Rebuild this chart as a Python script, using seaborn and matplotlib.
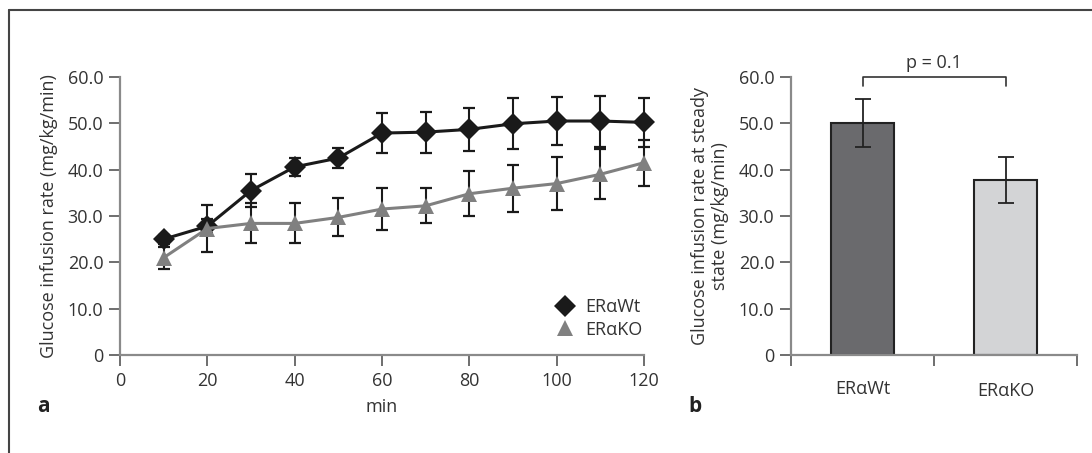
import matplotlib
matplotlib.use("Agg")
import matplotlib.pyplot as plt
from matplotlib.lines import Line2D
import seaborn as sns
import numpy as np
import pandas as pd

# time course (panel a)
minutes = [10, 20, 30, 40, 50, 60, 70, 80, 90, 100, 110, 120]
wt_mean = [25.0, 27.8, 35.5, 40.6, 42.5, 47.9, 48.1, 48.7, 49.9, 50.5, 50.5, 50.2]
wt_err = [1.0, 1.5, 3.6, 2.0, 2.2, 4.4, 4.4, 4.7, 5.5, 5.2, 5.5, 5.3]
ko_mean = [21.0, 27.3, 28.4, 28.4, 29.7, 31.5, 32.2, 34.8, 36.0, 37.0, 39.0, 41.5]
ko_err = [2.4, 5.0, 4.3, 4.3, 4.1, 4.6, 3.8, 4.9, 5.1, 5.7, 5.4, 5.0]

# steady state (panel b)
groups = ["ER\u03b1Wt", "ER\u03b1KO"]
steady_mean = [50.0, 37.8]
steady_err = [5.2, 5.0]
p_text = "p = 0.1"

y_ticks = [0, 10, 20, 30, 40, 50, 60]
y_ticklabels = ["0", "10.0", "20.0", "30.0", "40.0", "50.0", "60.0"]

FS = 13
sns.set_style("ticks")
plt.rcParams["font.family"] = ["Open Sans", "DejaVu Sans"]
plt.rcParams["font.size"] = FS

AXIS_C = "#8a8a8a"
TEXT_C = "#333333"


def style_axis(ax):
    sns.despine(ax=ax)
    for s in ["left", "bottom"]:
        ax.spines[s].set_color(AXIS_C)
        ax.spines[s].set_linewidth(1.6)
    ax.tick_params(colors=TEXT_C, labelsize=FS, length=8, width=1.2, pad=4)
    ax.tick_params(axis="both", color="#555555")
    ax.set_ylim(0, 60)
    ax.set_yticks(y_ticks)
    ax.set_yticklabels(y_ticklabels)


fig = plt.figure(figsize=(10.92, 4.53), dpi=100)

# figure frame (top and left)
fig.add_artist(Line2D([9 / 1092, 1.0], [1 - 10 / 453, 1 - 10 / 453], color="#444444", lw=1.5))
fig.add_artist(Line2D([9 / 1092, 9 / 1092], [0.0, 1 - 10 / 453], color="#444444", lw=1.5))

# ---- panel a ----
ax1 = fig.add_axes([120 / 1092, 1 - 355 / 453, (644 - 120) / 1092, (355 - 77) / 453])
df = pd.DataFrame({
    "min": minutes * 2,
    "rate": wt_mean + ko_mean,
    "group": [groups[0]] * len(minutes) + [groups[1]] * len(minutes),
})
ax1.errorbar(minutes, ko_mean, yerr=ko_err, fmt="none", ecolor="#1a1a1a",
             elinewidth=1.5, capsize=4, capthick=1.6, zorder=2, clip_on=False)
ax1.errorbar(minutes, wt_mean, yerr=wt_err, fmt="none", ecolor="#1a1a1a",
             elinewidth=1.5, capsize=4, capthick=1.6, zorder=2, clip_on=False)
sns.lineplot(data=df, x="min", y="rate", hue="group", style="group",
             palette=["#1a1a1a", "#808080"], markers=["D", "^"], dashes=False,
             markersize=11, markeredgewidth=0, linewidth=2.2, ax=ax1,
             legend=False, zorder=3, clip_on=False)
ax1.set_xlim(0, 120)
ax1.set_xticks(range(0, 121, 20))
style_axis(ax1)
ax1.set_xlabel("min", color=TEXT_C, fontsize=FS, labelpad=6)
ax1.set_ylabel("Glucose infusion rate (mg/kg/min)", color=TEXT_C, fontsize=FS, labelpad=7)

handles = [
    Line2D([], [], color="#1a1a1a", marker="D", linestyle="none", markersize=11, markeredgewidth=0),
    Line2D([], [], color="#808080", marker="^", linestyle="none", markersize=11, markeredgewidth=0),
]
leg = ax1.legend(handles, groups, loc="lower right", bbox_to_anchor=(1.017, 0.02), frameon=False,
                 fontsize=FS, handletextpad=0.1, labelspacing=0.25, borderaxespad=0.2)
for t in leg.get_texts():
    t.set_color(TEXT_C)

# ---- panel b ----
ax2 = fig.add_axes([791 / 1092, 1 - 355 / 453, (1077 - 791) / 1092, (355 - 77) / 453])
df_b = pd.DataFrame({"group": groups, "rate": steady_mean})
sns.barplot(data=df_b, x="group", y="rate", hue="group", palette=["#6a6a6d", "#d3d4d6"],
            width=0.435, edgecolor="#222222", linewidth=1.5, legend=False, ax=ax2, zorder=2)
ax2.errorbar([0, 1], steady_mean, yerr=steady_err, fmt="none", ecolor="#222222",
             elinewidth=1.3, capsize=6, capthick=1.3, zorder=3)
ax2.set_xlim(-0.5, 1.5)
ax2.set_xticks([-0.5, 0.5, 1.5])
ax2.set_xticklabels([])
style_axis(ax2)
for i, g in enumerate(groups):
    ax2.text(i, -7.4 - 0.3 * i, g, ha="center", va="center", color=TEXT_C, fontsize=FS)
ax2.set_xlabel("")
ax2.set_ylabel("Glucose infusion rate at steady\nstate (mg/kg/min)", color=TEXT_C,
               fontsize=FS, labelpad=7, linespacing=1.1)

# significance bracket
ax2.plot([0, 0, 1, 1], [58.0, 60.0, 60.0, 58.0], color="#333333", lw=1.2, clip_on=False)
ax2.text(0.5, 61.0, p_text, ha="center", va="bottom", color=TEXT_C, fontsize=FS)

# panel letters
fig.text(43 / 1092, 1 - 406 / 453, "a", fontsize=15, fontweight="bold", color="#222222",
         ha="center", va="center")
fig.text(695 / 1092, 1 - 406 / 453, "b", fontsize=15, fontweight="bold", color="#222222",
         ha="center", va="center")

fig.savefig("out.png", dpi=100)
